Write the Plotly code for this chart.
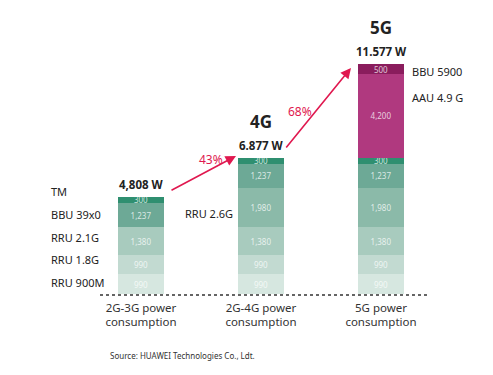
import plotly.graph_objects as go

categories = ["2G-3G power<br>consumption", "2G-4G power<br>consumption", "5G power<br>consumption"]
generations = ["", "4G", "5G"]
total_labels = ["4,808 W", "6.877 W", "11.577 W"]
growth_labels = ["43%", "68%"]

rru_900m = [990, 990, 990]
rru_18g = [990, 990, 990]
rru_21g = [1380, 1380, 1380]
rru_26g = [0, 1980, 1980]
bbu_39x0 = [1237, 1237, 1237]
tm = [300, 300, 300]
aau_49g = [0, 0, 4200]
bbu_5900 = [0, 0, 500]

series = [
    ("RRU 900M", rru_900m, "#d6e7e0"),
    ("RRU 1.8G", rru_18g, "#c2dad1"),
    ("RRU 2.1G", rru_21g, "#a8cbbe"),
    ("RRU 2.6G", rru_26g, "#8bbaa9"),
    ("BBU 39x0", bbu_39x0, "#6da996"),
    ("TM", tm, "#2f8f70"),
    ("AAU 4.9 G", aau_49g, "#b0397f"),
    ("BBU 5900", bbu_5900, "#8a1d5d"),
]

FONT = "Noto Sans"
xs = [0, 1, 2]
fig = go.Figure()
for name, vals, col in series:
    fig.add_trace(go.Bar(
        x=xs, y=vals, name=name, marker=dict(color=col, line=dict(width=0)),
        width=0.39,
        text=[f"{v:,}" if v else "" for v in vals],
        textposition="inside", insidetextanchor="middle", constraintext="none",
        textfont=dict(family=FONT, size=8, color="rgba(255,255,255,0.75)"),
        hoverinfo="skip",
    ))

totals = [sum(s[1][i] for s in series) for i in range(3)]

OFF = 8  # page body margin
W, H = 493, 375
L, T = 81 - OFF, 56 - OFF
pw, ph = 360, 238
R, B = W - L - pw, H - T - ph
YMAX = 12000

def px(x):
    return (x - OFF - L) / pw

def py(y):
    return (T + OFF + ph - y) / ph

ann = []
for txt, y in [("TM", 191), ("BBU 39x0", 214), ("RRU 2.1G", 237), ("RRU 1.8G", 259), ("RRU 900M", 282)]:
    ann.append(dict(x=px(49), y=py(y), xref="paper", yref="paper", text=txt, showarrow=False,
                    xanchor="left", yanchor="middle", font=dict(family=FONT, size=11, color="#222")))
ann.append(dict(x=px(183), y=py(213), xref="paper", yref="paper", text="RRU 2.6G", showarrow=False,
                xanchor="left", yanchor="middle", font=dict(family=FONT, size=11, color="#222")))
ann.append(dict(x=px(410), y=py(71), xref="paper", yref="paper", text="BBU 5900", showarrow=False,
                xanchor="left", yanchor="middle", font=dict(family=FONT, size=11, color="#222")))
ann.append(dict(x=px(410), y=py(97), xref="paper", yref="paper", text="AAU 4.9 G", showarrow=False,
                xanchor="left", yanchor="middle", font=dict(family=FONT, size=11, color="#222")))

for i in range(3):
    ann.append(dict(x=xs[i], y=totals[i], xref="x", yref="y", text=f"<b>{total_labels[i]}</b>",
                    showarrow=False, yanchor="bottom", yshift=3,
                    font=dict(family=FONT, size=11.5, color="#222")))
    if generations[i]:
        ann.append(dict(x=xs[i], y=totals[i], xref="x", yref="y", text=f"<b>{generations[i]}</b>",
                        showarrow=False, yanchor="bottom", yshift=23,
                        font=dict(family=FONT, size=17, color="#222")))

RED = "#e0184f"
for (x0, y0, x1, y1) in [(170, 191, 236, 156), (285, 149, 351, 68)]:
    ann.append(dict(x=px(x1), y=py(y1), xref="paper", yref="paper", ax=x0 - x1, ay=y0 - y1,
                    axref="pixel", ayref="pixel", showarrow=True, arrowhead=2, arrowsize=1.3,
                    arrowwidth=1.6, arrowcolor=RED, text=""))
for txt, (x, y) in zip(growth_labels, [(197, 159), (300, 101)]):
    ann.append(dict(x=px(x), y=py(y), xref="paper", yref="paper", text=txt, showarrow=False,
                    font=dict(family=FONT, size=12, color=RED)))

ann.append(dict(x=px(108), y=py(355), xref="paper", yref="paper", text="Source: HUAWEI Technologies Co., Ldt.",
                showarrow=False, xanchor="left", yanchor="middle", font=dict(family=FONT, size=8, color="#333")))

fig.update_layout(
    width=W, height=H, autosize=False,
    margin=dict(l=L, r=R, t=T, b=B),
    barmode="stack", showlegend=False,
    plot_bgcolor="white", paper_bgcolor="white",
    annotations=ann,
    shapes=[dict(type="line", xref="paper", yref="paper", x0=px(100), x1=px(428), y0=py(295), y1=py(295),
                 line=dict(color="#333", width=1.6, dash="dot"))],
    xaxis=dict(range=[-0.5, 2.5], tickvals=xs, ticktext=categories, showgrid=False, zeroline=False,
               showline=False, ticks="", ticklabelstandoff=5,
               tickfont=dict(family=FONT, size=11.5, color="#333")),
    yaxis=dict(range=[0, YMAX], visible=False, showgrid=False),
    font=dict(family=FONT),
)

fig.write_html("out.html")
